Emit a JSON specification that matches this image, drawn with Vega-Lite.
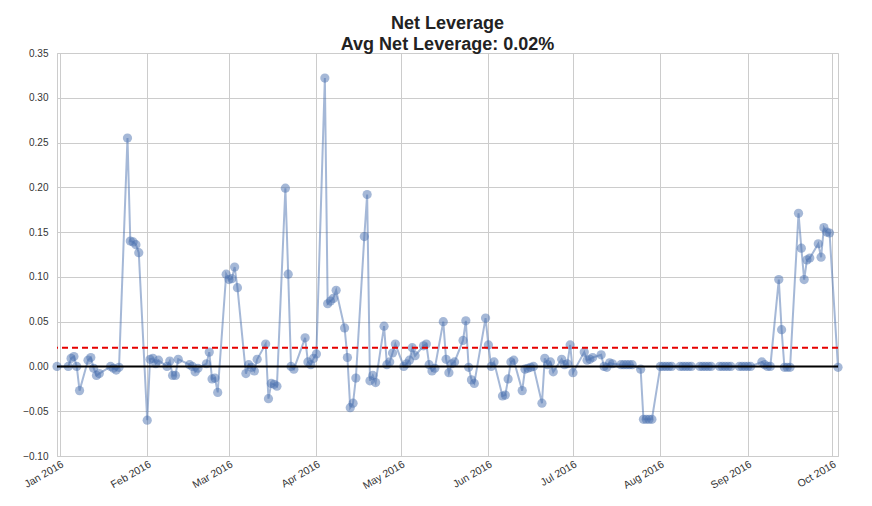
{
  "$schema": "https://vega.github.io/schema/vega-lite/v6.json",
  "autosize": "none",
  "padding": {"left": 57, "top": 53, "right": 34, "bottom": 50},
  "width": 781,
  "height": 403,
  "config": {
    "font": "Liberation Sans",
    "view": {"stroke": "#cccccc", "strokeWidth": 1},
    "axis": {
      "gridColor": "#cccccc",
      "gridWidth": 1,
      "domainColor": "#cccccc",
      "ticks": false,
      "labelFontSize": 10,
      "labelColor": "#333333",
      "title": null
    }
  },
  "title": {
    "text": ["Net Leverage", "Avg Net Leverage: 0.02%"],
    "fontSize": 18,
    "fontWeight": "bold",
    "color": "#222222",
    "lineHeight": 21,
    "anchor": "middle",
    "offset": -6
  },
  "layer": [
    {
      "data": {"values": [
        {"date": "2015-12-31", "value": 0.000},
        {"date": "2016-01-04", "value": 0.000},
        {"date": "2016-01-05", "value": 0.009},
        {"date": "2016-01-06", "value": 0.011},
        {"date": "2016-01-07", "value": 0.000},
        {"date": "2016-01-08", "value": -0.027},
        {"date": "2016-01-11", "value": 0.007},
        {"date": "2016-01-12", "value": 0.010},
        {"date": "2016-01-13", "value": -0.002},
        {"date": "2016-01-14", "value": -0.010},
        {"date": "2016-01-15", "value": -0.008},
        {"date": "2016-01-19", "value": 0.000},
        {"date": "2016-01-20", "value": -0.002},
        {"date": "2016-01-21", "value": -0.004},
        {"date": "2016-01-22", "value": -0.001},
        {"date": "2016-01-25", "value": 0.255},
        {"date": "2016-01-26", "value": 0.140},
        {"date": "2016-01-27", "value": 0.139},
        {"date": "2016-01-28", "value": 0.136},
        {"date": "2016-01-29", "value": 0.127},
        {"date": "2016-02-01", "value": -0.060},
        {"date": "2016-02-02", "value": 0.008},
        {"date": "2016-02-03", "value": 0.009},
        {"date": "2016-02-04", "value": 0.003},
        {"date": "2016-02-05", "value": 0.007},
        {"date": "2016-02-08", "value": 0.000},
        {"date": "2016-02-09", "value": 0.006},
        {"date": "2016-02-10", "value": -0.010},
        {"date": "2016-02-11", "value": -0.010},
        {"date": "2016-02-12", "value": 0.008},
        {"date": "2016-02-16", "value": 0.002},
        {"date": "2016-02-17", "value": 0.000},
        {"date": "2016-02-18", "value": -0.006},
        {"date": "2016-02-19", "value": -0.002},
        {"date": "2016-02-22", "value": 0.003},
        {"date": "2016-02-23", "value": 0.016},
        {"date": "2016-02-24", "value": -0.014},
        {"date": "2016-02-25", "value": -0.013},
        {"date": "2016-02-26", "value": -0.029},
        {"date": "2016-02-29", "value": 0.103},
        {"date": "2016-03-01", "value": 0.097},
        {"date": "2016-03-02", "value": 0.098},
        {"date": "2016-03-03", "value": 0.111},
        {"date": "2016-03-04", "value": 0.088},
        {"date": "2016-03-07", "value": -0.008},
        {"date": "2016-03-08", "value": 0.002},
        {"date": "2016-03-09", "value": -0.001},
        {"date": "2016-03-10", "value": -0.005},
        {"date": "2016-03-11", "value": 0.008},
        {"date": "2016-03-14", "value": 0.025},
        {"date": "2016-03-15", "value": -0.036},
        {"date": "2016-03-16", "value": -0.019},
        {"date": "2016-03-17", "value": -0.020},
        {"date": "2016-03-18", "value": -0.022},
        {"date": "2016-03-21", "value": 0.199},
        {"date": "2016-03-22", "value": 0.103},
        {"date": "2016-03-23", "value": 0.000},
        {"date": "2016-03-24", "value": -0.003},
        {"date": "2016-03-28", "value": 0.032},
        {"date": "2016-03-29", "value": 0.005},
        {"date": "2016-03-30", "value": 0.002},
        {"date": "2016-03-31", "value": 0.009},
        {"date": "2016-04-01", "value": 0.014},
        {"date": "2016-04-04", "value": 0.322},
        {"date": "2016-04-05", "value": 0.070},
        {"date": "2016-04-06", "value": 0.073},
        {"date": "2016-04-07", "value": 0.076},
        {"date": "2016-04-08", "value": 0.085},
        {"date": "2016-04-11", "value": 0.043},
        {"date": "2016-04-12", "value": 0.010},
        {"date": "2016-04-13", "value": -0.046},
        {"date": "2016-04-14", "value": -0.041},
        {"date": "2016-04-15", "value": -0.013},
        {"date": "2016-04-18", "value": 0.145},
        {"date": "2016-04-19", "value": 0.192},
        {"date": "2016-04-20", "value": -0.016},
        {"date": "2016-04-21", "value": -0.010},
        {"date": "2016-04-22", "value": -0.018},
        {"date": "2016-04-25", "value": 0.045},
        {"date": "2016-04-26", "value": 0.002},
        {"date": "2016-04-27", "value": 0.005},
        {"date": "2016-04-28", "value": 0.015},
        {"date": "2016-04-29", "value": 0.025},
        {"date": "2016-05-02", "value": 0.000},
        {"date": "2016-05-03", "value": 0.003},
        {"date": "2016-05-04", "value": 0.007},
        {"date": "2016-05-05", "value": 0.021},
        {"date": "2016-05-06", "value": 0.012},
        {"date": "2016-05-09", "value": 0.023},
        {"date": "2016-05-10", "value": 0.025},
        {"date": "2016-05-11", "value": 0.002},
        {"date": "2016-05-12", "value": -0.005},
        {"date": "2016-05-13", "value": -0.002},
        {"date": "2016-05-16", "value": 0.050},
        {"date": "2016-05-17", "value": 0.008},
        {"date": "2016-05-18", "value": -0.007},
        {"date": "2016-05-19", "value": 0.003},
        {"date": "2016-05-20", "value": 0.005},
        {"date": "2016-05-23", "value": 0.029},
        {"date": "2016-05-24", "value": 0.051},
        {"date": "2016-05-25", "value": -0.001},
        {"date": "2016-05-26", "value": -0.015},
        {"date": "2016-05-27", "value": -0.019},
        {"date": "2016-05-31", "value": 0.054},
        {"date": "2016-06-01", "value": 0.024},
        {"date": "2016-06-02", "value": 0.000},
        {"date": "2016-06-03", "value": 0.005},
        {"date": "2016-06-06", "value": -0.033},
        {"date": "2016-06-07", "value": -0.032},
        {"date": "2016-06-08", "value": -0.014},
        {"date": "2016-06-09", "value": 0.005},
        {"date": "2016-06-10", "value": 0.007},
        {"date": "2016-06-13", "value": -0.027},
        {"date": "2016-06-14", "value": -0.003},
        {"date": "2016-06-15", "value": -0.002},
        {"date": "2016-06-16", "value": -0.001},
        {"date": "2016-06-17", "value": 0.000},
        {"date": "2016-06-20", "value": -0.041},
        {"date": "2016-06-21", "value": 0.009},
        {"date": "2016-06-22", "value": 0.002},
        {"date": "2016-06-23", "value": 0.005},
        {"date": "2016-06-24", "value": -0.006},
        {"date": "2016-06-27", "value": 0.008},
        {"date": "2016-06-28", "value": 0.002},
        {"date": "2016-06-29", "value": 0.003},
        {"date": "2016-06-30", "value": 0.024},
        {"date": "2016-07-01", "value": -0.007},
        {"date": "2016-07-05", "value": 0.016},
        {"date": "2016-07-06", "value": 0.007},
        {"date": "2016-07-07", "value": 0.008},
        {"date": "2016-07-08", "value": 0.010},
        {"date": "2016-07-11", "value": 0.013},
        {"date": "2016-07-12", "value": 0.000},
        {"date": "2016-07-13", "value": -0.001},
        {"date": "2016-07-14", "value": 0.004},
        {"date": "2016-07-15", "value": 0.003},
        {"date": "2016-07-18", "value": 0.002},
        {"date": "2016-07-19", "value": 0.002},
        {"date": "2016-07-20", "value": 0.002},
        {"date": "2016-07-21", "value": 0.002},
        {"date": "2016-07-22", "value": 0.002},
        {"date": "2016-07-25", "value": -0.003},
        {"date": "2016-07-26", "value": -0.059},
        {"date": "2016-07-27", "value": -0.059},
        {"date": "2016-07-28", "value": -0.059},
        {"date": "2016-07-29", "value": -0.059},
        {"date": "2016-08-01", "value": 0.000},
        {"date": "2016-08-02", "value": 0.000},
        {"date": "2016-08-03", "value": 0.000},
        {"date": "2016-08-04", "value": 0.000},
        {"date": "2016-08-05", "value": 0.000},
        {"date": "2016-08-08", "value": 0.000},
        {"date": "2016-08-09", "value": 0.000},
        {"date": "2016-08-10", "value": 0.000},
        {"date": "2016-08-11", "value": 0.000},
        {"date": "2016-08-12", "value": 0.000},
        {"date": "2016-08-15", "value": 0.000},
        {"date": "2016-08-16", "value": 0.000},
        {"date": "2016-08-17", "value": 0.000},
        {"date": "2016-08-18", "value": 0.000},
        {"date": "2016-08-19", "value": 0.000},
        {"date": "2016-08-22", "value": 0.000},
        {"date": "2016-08-23", "value": 0.000},
        {"date": "2016-08-24", "value": 0.000},
        {"date": "2016-08-25", "value": 0.000},
        {"date": "2016-08-26", "value": 0.000},
        {"date": "2016-08-29", "value": 0.000},
        {"date": "2016-08-30", "value": 0.000},
        {"date": "2016-08-31", "value": 0.000},
        {"date": "2016-09-01", "value": 0.000},
        {"date": "2016-09-02", "value": 0.000},
        {"date": "2016-09-06", "value": 0.005},
        {"date": "2016-09-07", "value": 0.002},
        {"date": "2016-09-08", "value": 0.000},
        {"date": "2016-09-09", "value": 0.000},
        {"date": "2016-09-12", "value": 0.097},
        {"date": "2016-09-13", "value": 0.041},
        {"date": "2016-09-14", "value": -0.001},
        {"date": "2016-09-15", "value": -0.001},
        {"date": "2016-09-16", "value": -0.001},
        {"date": "2016-09-19", "value": 0.171},
        {"date": "2016-09-20", "value": 0.132},
        {"date": "2016-09-21", "value": 0.097},
        {"date": "2016-09-22", "value": 0.119},
        {"date": "2016-09-23", "value": 0.121},
        {"date": "2016-09-26", "value": 0.137},
        {"date": "2016-09-27", "value": 0.122},
        {"date": "2016-09-28", "value": 0.155},
        {"date": "2016-09-29", "value": 0.150},
        {"date": "2016-09-30", "value": 0.149},
        {"date": "2016-10-03", "value": -0.001}
      ]},
      "encoding": {
        "x": {
          "field": "date",
          "timeUnit": "utcyearmonthdate",
          "type": "temporal",
          "scale": {"nice": false},
          "axis": {
            "format": "%b %Y",
            "tickCount": {"interval": "month"},
            "labelAngle": -30,
            "labelAlign": "right",
            "labelBaseline": "top",
            "labelPadding": 3,
            "labelFontSize": 10.5,
            "labelFlush": false,
            "labelOverlap": false
          }
        },
        "y": {
          "field": "value",
          "type": "quantitative",
          "scale": {"domain": [-0.1, 0.35], "nice": false, "zero": false},
          "axis": {
            "values": [-0.1, -0.05, 0, 0.05, 0.1, 0.15, 0.2, 0.25, 0.3, 0.35],
            "format": ".2f",
            "labelPadding": 9
          }
        }
      },
      "layer": [
        {"mark": {"type": "line", "color": "#4c72b0", "opacity": 0.5, "strokeWidth": 2}},
        {"mark": {"type": "circle", "color": "#4c72b0", "opacity": 0.5, "size": 85}}
      ]
    },
    {
      "data": {"values": [{"level": 0}]},
      "mark": {"type": "rule", "color": "#000000", "strokeWidth": 2},
      "encoding": {"y": {"field": "level", "type": "quantitative"}}
    },
    {
      "data": {"values": [{"level": 0.021}]},
      "mark": {"type": "rule", "color": "#e60000", "strokeWidth": 2, "strokeDash": [6, 4]},
      "encoding": {"y": {"field": "level", "type": "quantitative"}}
    }
  ]
}
